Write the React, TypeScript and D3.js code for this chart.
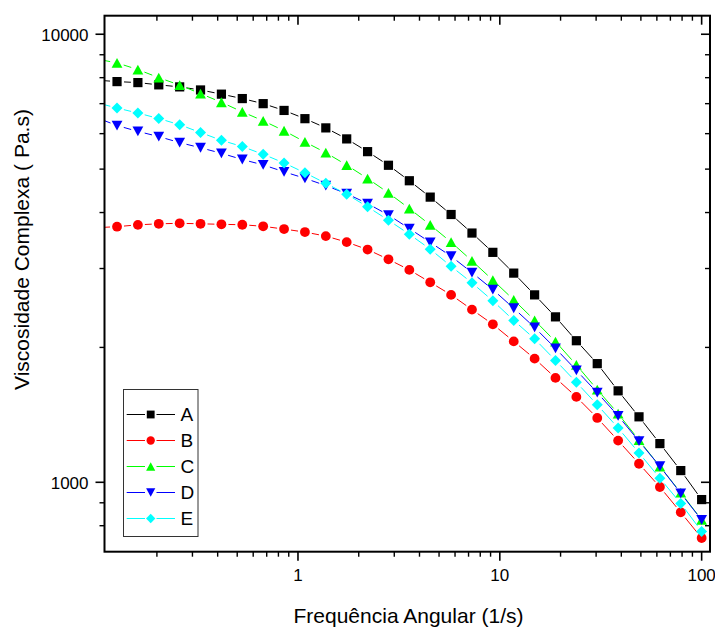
import React from "react";
import { scaleLog } from "d3";

// frequency sweep (1/s), 30 points from 0.1 to 100
const frequencies = [
  0.1, 0.1269, 0.161, 0.2043, 0.2593, 0.329, 0.4175, 0.5298, 0.6723, 0.8532,
  1.0826, 1.3738, 1.7433, 2.2122, 2.8072, 3.5622, 4.5204, 5.7362, 7.279, 9.2367,
  11.721, 14.874, 18.874, 23.95, 30.392, 38.566, 48.939, 62.102, 78.805, 100,
];

// complex viscosity (Pa.s)
const seriesA = [
  7900, 7840, 7800, 7710, 7630, 7510, 7350, 7185, 7000, 6760,
  6480, 6180, 5840, 5470, 5100, 4710, 4330, 3960, 3600, 3260,
  2930, 2620, 2340, 2070, 1840, 1600, 1400, 1220, 1062, 915,
];
const seriesB = [
  3700, 3720, 3755, 3775, 3785, 3775, 3765, 3757, 3727, 3674,
  3618, 3544, 3436, 3307, 3145, 2979, 2795, 2620, 2429, 2252,
  2063, 1888, 1710, 1551, 1392, 1239, 1100, 976, 857, 751,
];
const seriesC = [
  8810, 8630, 8340, 8000, 7700, 7370, 7050, 6710, 6410, 6090,
  5750, 5440, 5105, 4764, 4426, 4083, 3754, 3436, 3121, 2827,
  2554, 2299, 2061, 1828, 1610, 1423, 1242, 1084, 948, 825,
];
const seriesD = [
  6520, 6255, 6070, 5910, 5730, 5580, 5424, 5253, 5110, 4932,
  4769, 4595, 4406, 4189, 3949, 3684, 3432, 3195, 2938, 2692,
  2446, 2216, 1990, 1778, 1585, 1407, 1235, 1086, 945, 824,
];
const seriesE = [
  7040, 6844, 6670, 6484, 6281, 6034, 5799, 5614, 5396, 5162,
  4906, 4648, 4395, 4119, 3845, 3578, 3314, 3034, 2787, 2541,
  2298, 2090, 1871, 1672, 1489, 1322, 1163, 1021, 897, 777,
];

const seriesNames = ["A", "B", "C", "D", "E"];
const seriesColors = ["#000000", "#ff0000", "#00ff00", "#0000ff", "#00ffff"];
const seriesShapes = ["square", "circle", "triangle", "down", "diamond"];

const xMajorTicks = [1, 10, 100];
const xTickLabels = ["1", "10", "100"];
const xMinorTicks = [
  0.2, 0.3, 0.4, 0.5, 0.6, 0.7, 0.8, 0.9,
  2, 3, 4, 5, 6, 7, 8, 9,
  20, 30, 40, 50, 60, 70, 80, 90,
];
const yMajorTicks = [1000, 10000];
const yTickLabels = ["1000", "10000"];
const yMinorTicks = [800, 900, 2000, 3000, 4000, 5000, 6000, 7000, 8000, 9000];

const W = 715;
const H = 627;
const left = 104.5;
const right = 710;
const top = 15.7;
const bottom = 551.7;
const font = "'Liberation Sans', Arial, sans-serif";

function Marker({ shape, x, y, color, k = 1 }) {
  if (shape === "square") {
    const s = 4.6 * k;
    return <rect x={x - s} y={y - s} width={2 * s} height={2 * s} fill={color} />;
  }
  if (shape === "circle") {
    return <circle cx={x} cy={y} r={4.9 * k} fill={color} />;
  }
  if (shape === "triangle") {
    const w = 5.4 * k, h = 4.9 * k;
    return <polygon points={`${x},${y - h} ${x + w},${y + h} ${x - w},${y + h}`} fill={color} />;
  }
  if (shape === "down") {
    const w = 5.4 * k, h = 4.9 * k;
    return <polygon points={`${x},${y + h} ${x + w},${y - h} ${x - w},${y - h}`} fill={color} />;
  }
  const d = 5.5 * k;
  return <polygon points={`${x},${y - d} ${x + d},${y} ${x},${y + d} ${x - d},${y}`} fill={color} />;
}

// line pieces between points, leaving a small gap around each symbol
function gappedSegments(pts, gap) {
  const segs = [];
  for (let i = 0; i < pts.length - 1; i++) {
    const [x0, y0] = pts[i];
    const [x1, y1] = pts[i + 1];
    const L = Math.hypot(x1 - x0, y1 - y0);
    if (L <= 2 * gap) continue;
    const ux = (x1 - x0) / L, uy = (y1 - y0) / L;
    segs.push([x0 + ux * gap, y0 + uy * gap, x1 - ux * gap, y1 - uy * gap]);
  }
  return segs;
}

export default function App() {
  const x = scaleLog().domain([0.11, 110]).range([left, right]);
  const y = scaleLog().domain([700, 11000]).range([bottom, top]);
  const allSeries = [seriesA, seriesB, seriesC, seriesD, seriesE];

  const legendX = 123.5;
  const legendY = 389.5;
  const rowH = 26;

  return (
    <svg width={W} height={H} style={{ display: "block", position: "absolute", left: 0, top: 0 }}>
      <defs>
        <clipPath id="plot">
          <rect x={left} y={top} width={right - left} height={bottom - top} />
        </clipPath>
      </defs>
      <rect width={W} height={H} fill="#fff" />

      <g clipPath="url(#plot)">
        {allSeries.map((vals, si) => {
          const pts = vals.map((v, i) => [x(frequencies[i]), y(v)]);
          return (
            <g key={si}>
              {gappedSegments(pts, 7).map((s, i) => (
                <line key={i} x1={s[0]} y1={s[1]} x2={s[2]} y2={s[3]}
                  stroke={seriesColors[si]} strokeWidth={1} />
              ))}
              {pts.map((p, i) => (
                <Marker key={i} shape={seriesShapes[si]} x={p[0]} y={p[1]} color={seriesColors[si]} />
              ))}
            </g>
          );
        })}
      </g>

      {/* axes frame */}
      <rect x={left} y={top} width={right - left} height={bottom - top}
        fill="none" stroke="#000" strokeWidth={2} />

      {/* x ticks: bottom outward, top inward */}
      {xMajorTicks.map((t) => (
        <g key={"xM" + t}>
          <line x1={x(t)} x2={x(t)} y1={bottom} y2={bottom + 9} stroke="#000" strokeWidth={1.6} />
          <line x1={x(t)} x2={x(t)} y1={top} y2={top + 9} stroke="#000" strokeWidth={1.6} />
        </g>
      ))}
      {xMinorTicks.map((t) => (
        <g key={"xm" + t}>
          <line x1={x(t)} x2={x(t)} y1={bottom} y2={bottom + 5} stroke="#000" strokeWidth={1.4} />
          <line x1={x(t)} x2={x(t)} y1={top} y2={top + 5} stroke="#000" strokeWidth={1.4} />
        </g>
      ))}
      {xMajorTicks.map((t, i) => (
        <text key={"xl" + t} x={x(t)} y={bottom + 29} textAnchor="middle"
          fontFamily={font} fontSize={17} fill="#000">{xTickLabels[i]}</text>
      ))}

      {/* y ticks: left outward, right inward */}
      {yMajorTicks.map((t) => (
        <g key={"yM" + t}>
          <line x1={left - 9} x2={left} y1={y(t)} y2={y(t)} stroke="#000" strokeWidth={1.6} />
          <line x1={right - 9} x2={right} y1={y(t)} y2={y(t)} stroke="#000" strokeWidth={1.6} />
        </g>
      ))}
      {yMinorTicks.map((t) => (
        <g key={"ym" + t}>
          <line x1={left - 5} x2={left} y1={y(t)} y2={y(t)} stroke="#000" strokeWidth={1.4} />
          <line x1={right - 5} x2={right} y1={y(t)} y2={y(t)} stroke="#000" strokeWidth={1.4} />
        </g>
      ))}
      {yMajorTicks.map((t, i) => (
        <text key={"yl" + t} x={left - 16} y={y(t)} dy="0.42em" textAnchor="end"
          fontFamily={font} fontSize={17} fill="#000">{yTickLabels[i]}</text>
      ))}

      {/* axis titles */}
      <text x={408.5} y={623} textAnchor="middle" fontFamily={font}
        fontSize={21} fill="#000">Frequência Angular (1/s)</text>
      <text transform="translate(29, 390) rotate(-90)" textAnchor="start"
        fontFamily={font} fontSize={21} fill="#000">Viscosidade Complexa ( Pa.s)</text>

      {/* legend */}
      <rect x={legendX} y={legendY} width={74.5} height={147} fill="#fff" stroke="#333" strokeWidth={1} />
      {seriesNames.map((name, i) => {
        const cy = legendY + 25 + i * rowH;
        return (
          <g key={name}>
            <line x1={126.7} x2={145} y1={cy} y2={cy} stroke={seriesColors[i]} strokeWidth={1} />
            <line x1={156.5} x2={175} y1={cy} y2={cy} stroke={seriesColors[i]} strokeWidth={1} />
            <Marker shape={seriesShapes[i]} x={150.7} y={cy} color={seriesColors[i]} k={0.85} />
            <text x={180.5} y={cy} dy="0.36em" fontFamily={font} fontSize={19} fill="#000">{name}</text>
          </g>
        );
      })}
    </svg>
  );
}
